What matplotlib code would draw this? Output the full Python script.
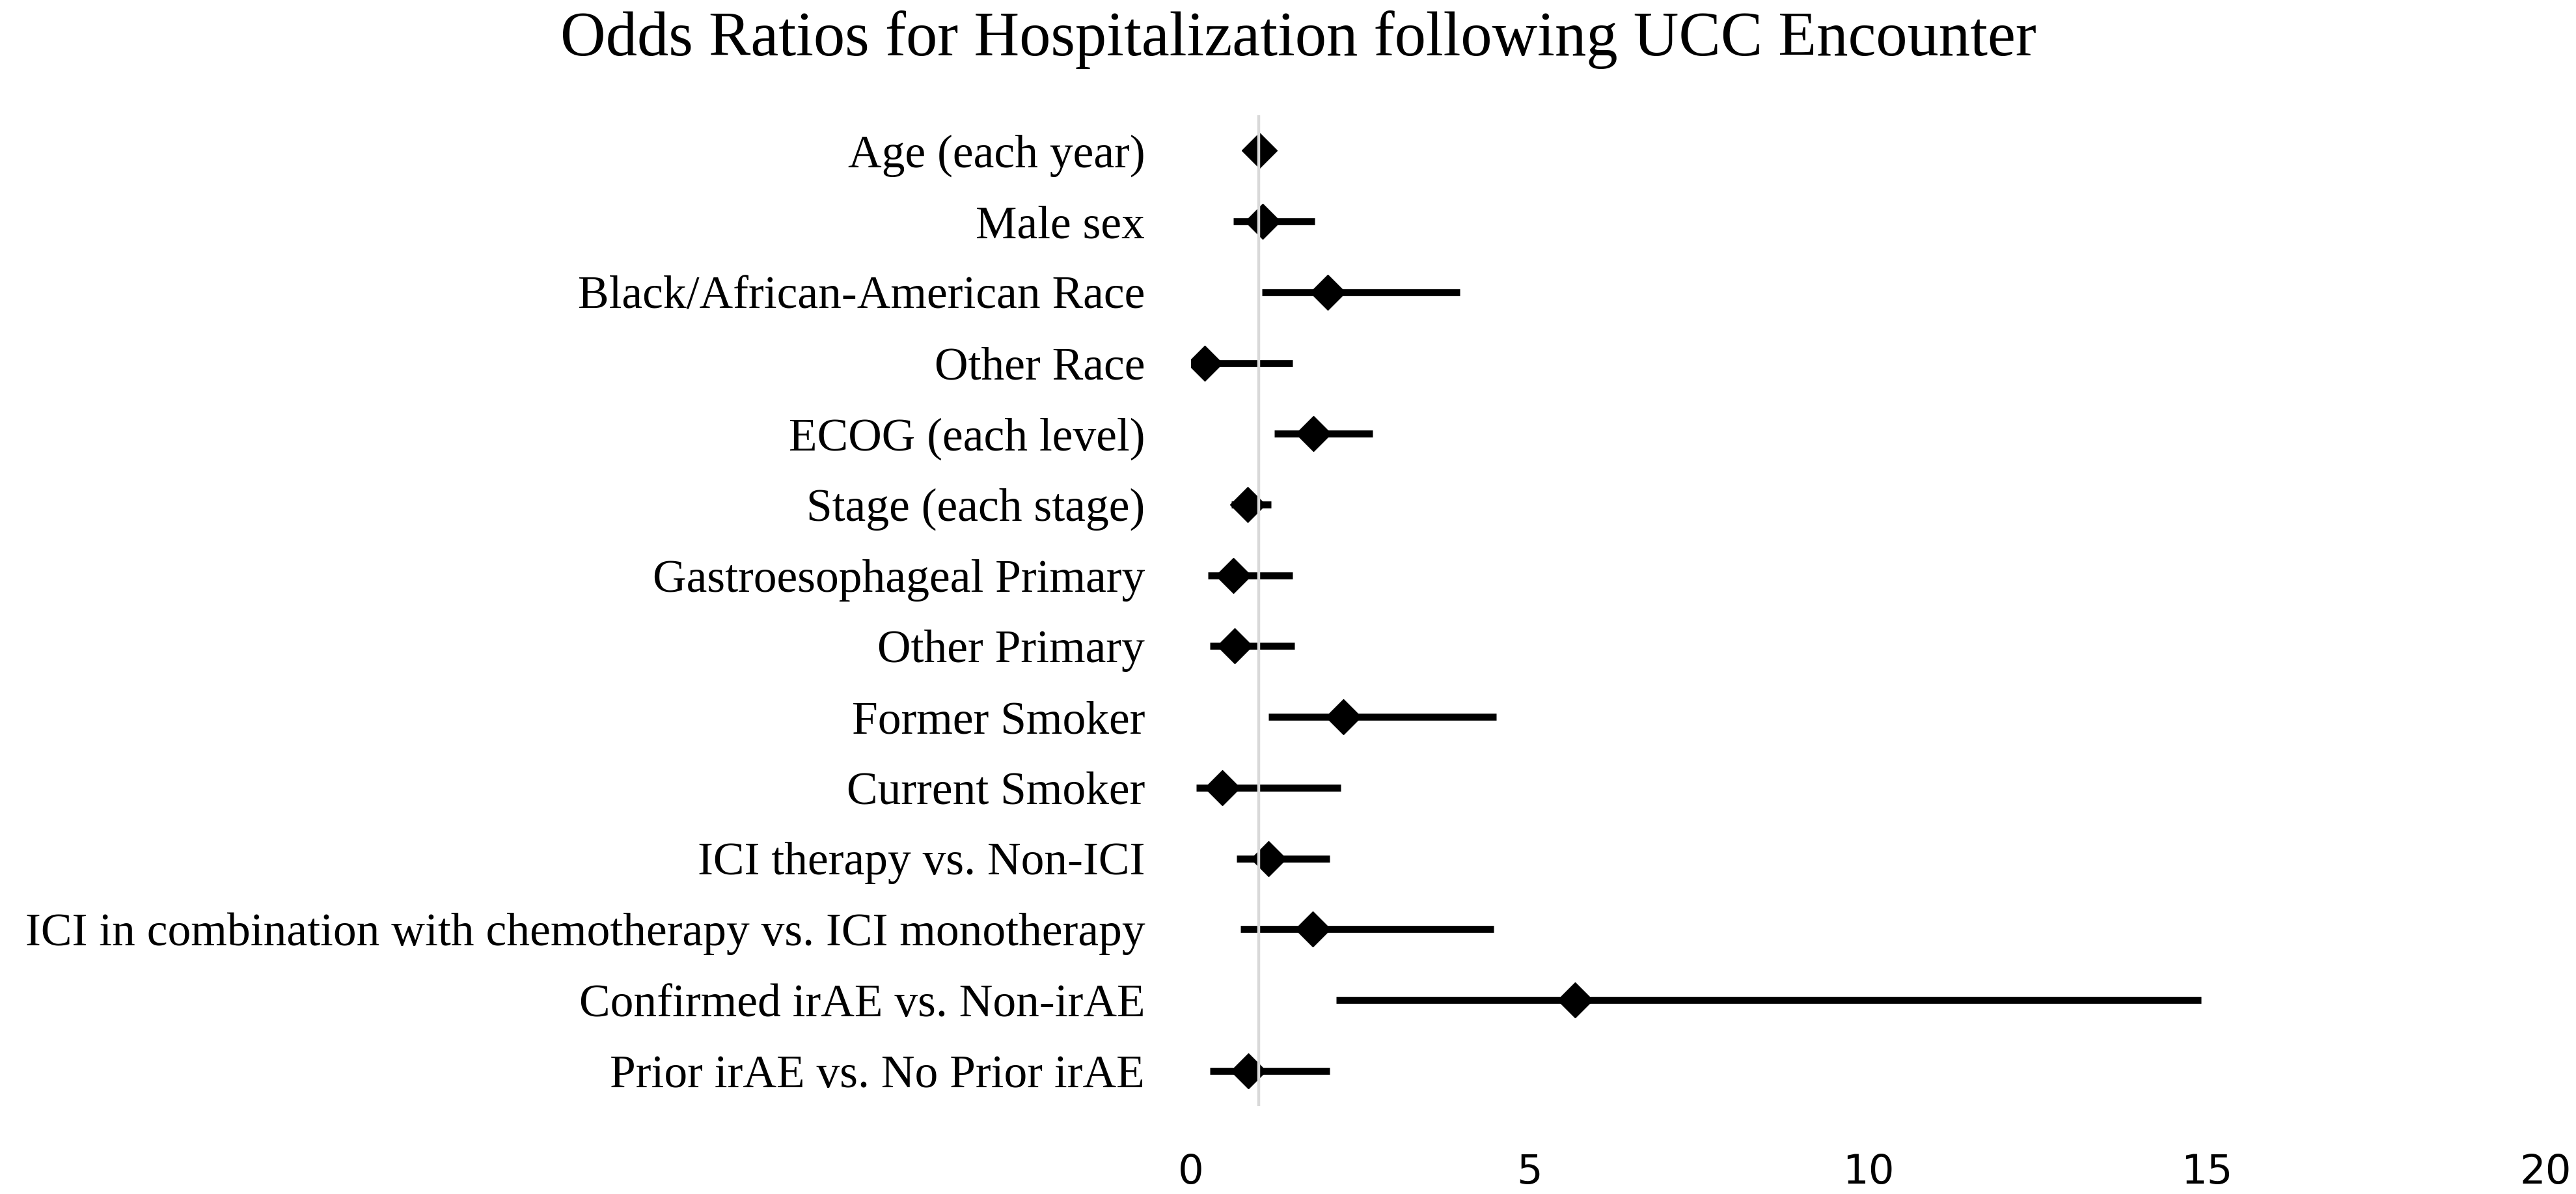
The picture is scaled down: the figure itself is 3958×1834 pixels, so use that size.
import matplotlib
matplotlib.use("Agg")
import matplotlib.pyplot as plt
import numpy as np

labels = [
    "Age (each year)",
    "Male sex",
    "Black/African-American Race",
    "Other Race",
    "ECOG (each level)",
    "Stage (each stage)",
    "Gastroesophageal Primary",
    "Other Primary",
    "Former Smoker",
    "Current Smoker",
    "ICI therapy vs. Non-ICI",
    "ICI in combination with chemotherapy vs. ICI monotherapy",
    "Confirmed irAE vs. Non-irAE",
    "Prior irAE vs. No Prior irAE",
]
odds_ratio = [1.01, 1.06, 2.02, 0.20, 1.81, 0.84, 0.62, 0.64, 2.25, 0.46, 1.14, 1.80, 5.67, 0.85]
ci_low = [0.99, 0.62, 1.05, 0.05, 1.23, 0.60, 0.25, 0.28, 1.14, 0.08, 0.67, 0.73, 2.14, 0.28]
ci_high = [1.03, 1.83, 3.97, 1.50, 2.68, 1.18, 1.50, 1.53, 4.51, 2.21, 2.05, 4.47, 14.92, 2.05]
x_ticks = [0, 5, 10, 15, 20]
reference_value = 1

W, H = 3958, 1834
fig = plt.figure(figsize=(W / 100, H / 100), dpi=100)
left, right = 1830 / W, 3911 / W
top, bottom = 1 - 177 / H, 1 - 1699 / H
ax = fig.add_axes([left, bottom, right - left, top - bottom])

y = np.arange(len(labels))
ax.hlines(y, ci_low, ci_high, color="black", linewidth=7.7, zorder=2)
ax.plot(odds_ratio, y, linestyle="none", marker="D", markersize=27.5,
        color="black", zorder=3)
ax.axvline(reference_value, color="#d9d9d9", linewidth=3.2, zorder=4)

ax.set_xlim(x_ticks[0], x_ticks[-1])
ax.set_ylim(len(labels) - 0.5, -0.5)
ax.set_xticks(x_ticks)
ax.set_xticklabels([str(t) for t in x_ticks], fontsize=45, family="DejaVu Sans")
ax.set_yticks(y)
ax.set_yticklabels(labels, fontsize=51.5, family="Liberation Serif")
ax.tick_params(axis="x", length=0, pad=52)
ax.tick_params(axis="y", length=0, pad=51)
for s in ax.spines.values():
    s.set_visible(False)

fig.text(1995 / W, 1 - 85 / H, "Odds Ratios for Hospitalization following UCC Encounter",
         ha="center", va="baseline", fontsize=69.5, family="Liberation Serif")

fig.savefig("out.png", dpi=100, facecolor="white")
